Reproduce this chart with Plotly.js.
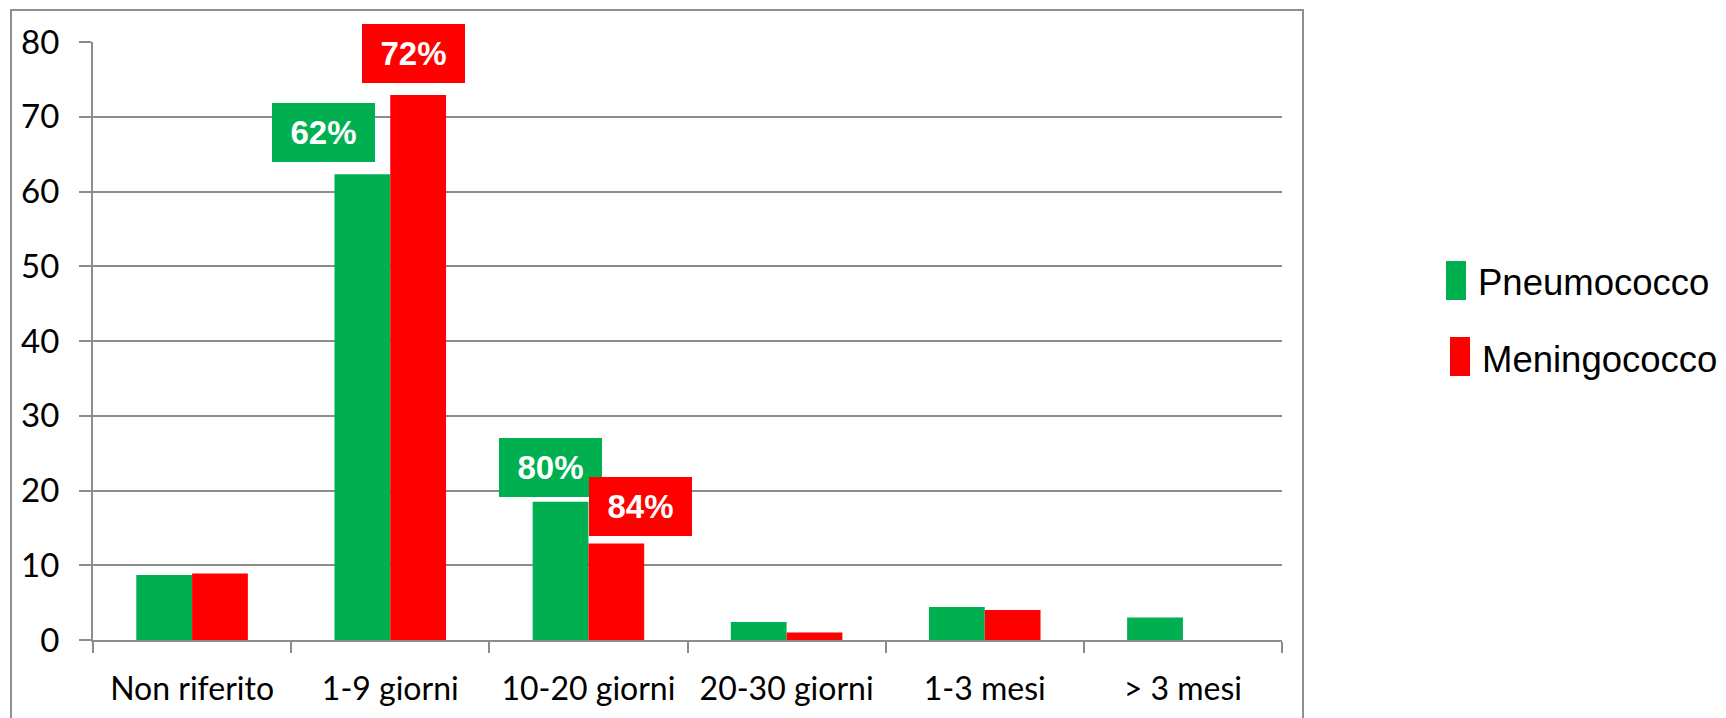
<!DOCTYPE html>
<html>
<head>
<meta charset="utf-8">
<script src="https://cdn.plot.ly/plotly-3.0.1.min.js"></script>
<style>
  html, body { margin: 0; padding: 0; background: #fff; }
  #wrap { position: relative; width: 1726px; height: 718px; overflow: hidden; }
  #frame { position: absolute; left: 10px; top: 9px; width: 1294px; height: 720px;
           border: 2px solid #8f8f8f; box-sizing: border-box; pointer-events: none; z-index: 5; }
  #chart { position: absolute; left: 0; top: 0; width: 1726px; height: 718px; }
</style>
</head>
<body>
<div id="wrap">
  <div id="chart"></div>
  <div id="frame"></div>
</div>
<script>
// ---- data ----
const categories = ["Non riferito", "1-9 giorni", "10-20 giorni", "20-30 giorni", "1-3 mesi", "> 3 mesi"];
const pneumococco = [8.7, 62.3, 18.5, 2.4, 4.4, 3.0];
const meningococco = [8.9, 72.9, 12.9, 1.0, 4.0, 0];
const seriesNames = ["Pneumococco", "Meningococco"];
const yTicks = [0, 10, 20, 30, 40, 50, 60, 70, 80];

// percentage call-outs: [series index, category index, label]
const callouts = [
  [0, 1, "62%"],
  [1, 1, "72%"],
  [0, 2, "80%"],
  [1, 2, "84%"]
];

// ---- styling ----
const green = "#00B050";
const red = "#FF0000";
const gray = "#8c8c8c";
const colors = [green, red];
const seriesData = [pneumococco, meningococco];
// pixel offsets of each call-out box centre relative to (category centre, bar top)
const calloutShift = [[-67, 42], [23, 42], [-38, 34], [52, 37]];

const traces = seriesData.map((vals, i) => ({
  type: "bar",
  name: seriesNames[i],
  x: categories,
  y: vals,
  marker: { color: colors[i], line: { width: 0 } },
  showlegend: false,
  hoverinfo: "x+y+name"
}));

const annotations = callouts.map((c, k) => ({
  xref: "x", yref: "y",
  x: categories[c[1]],
  y: seriesData[c[0]][c[1]],
  xshift: calloutShift[k][0],
  yshift: calloutShift[k][1],
  xanchor: "center", yanchor: "middle",
  text: "<b>" + c[2] + "</b>",
  showarrow: false,
  font: { family: "Liberation Sans, Arial, sans-serif", size: 33, color: "#ffffff" },
  bgcolor: colors[c[0]],
  borderpad: 0, borderwidth: 0,
  width: 103, height: 59
}));

// custom legend
const legendText = [[194, -240], [198, -317]];
const legendBox = [[164, 184, -258, -219], [168, 188, -334, -295]];
seriesNames.forEach((n, i) => {
  annotations.push({
    xref: "paper", yref: "paper", x: 1, y: 1,
    xshift: legendText[i][0], yshift: legendText[i][1],
    xanchor: "left", yanchor: "middle",
    text: n, showarrow: false,
    font: { family: "Liberation Sans, Arial, sans-serif", size: 36.5, color: "#000" }
  });
});
const shapes = seriesNames.map((n, i) => ({
  type: "rect", xref: "paper", yref: "paper",
  xsizemode: "pixel", ysizemode: "pixel", xanchor: 1, yanchor: 1,
  x0: legendBox[i][0], x1: legendBox[i][1], y0: legendBox[i][2], y1: legendBox[i][3],
  fillcolor: colors[i], line: { width: 0 }
}));

const layout = {
  width: 1726, height: 718,
  margin: { l: 92.5, r: 444, t: 42, b: 78 },
  paper_bgcolor: "rgba(0,0,0,0)", plot_bgcolor: "#fff",
  barmode: "group", bargap: 0.437, bargroupgap: 0,
  font: { family: "Lato, Carlito, Calibri, sans-serif", color: "#000" },
  xaxis: {
    type: "category",
    showline: true, linecolor: gray, linewidth: 2,
    ticks: "outside", tickson: "boundaries", ticklen: 11, tickcolor: gray, tickwidth: 2,
    tickfont: { family: "Lato, Carlito, Calibri, sans-serif", size: 32, color: "#000" },
    ticklabelstandoff: 20,
    showgrid: false, zeroline: false, fixedrange: true
  },
  yaxis: {
    range: [0, 80], tickvals: yTicks, ticktext: yTicks.map(String),
    showline: true, linecolor: gray, linewidth: 2,
    ticks: "outside", ticklen: 12, tickcolor: gray, tickwidth: 2,
    tickfont: { family: "Lato, Carlito, Calibri, sans-serif", size: 33, color: "#000" },
    ticklabelstandoff: 13,
    showgrid: true, gridcolor: gray, gridwidth: 2,
    zeroline: false, fixedrange: true
  },
  annotations: annotations,
  shapes: shapes
};

Plotly.newPlot("chart", traces, layout, { displayModeBar: false, staticPlot: true });
</script>
</body>
</html>
